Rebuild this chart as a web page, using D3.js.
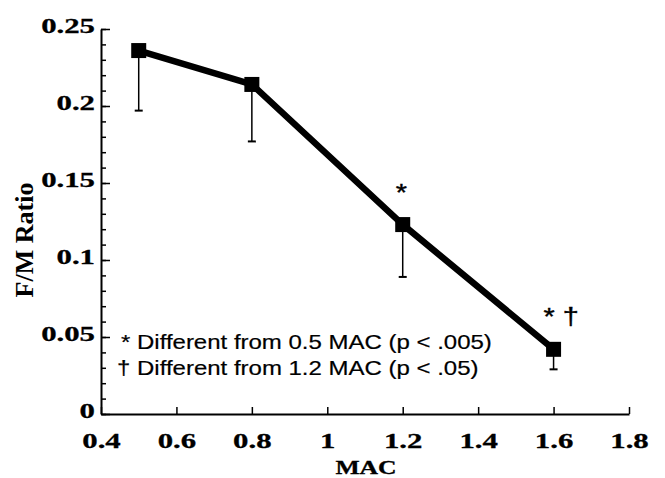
<!DOCTYPE html>
<html>
<head>
<meta charset="utf-8">
<script src="https://cdn.jsdelivr.net/npm/d3@7"></script>
<style>
  body { margin: 0; background: #fff; }
  svg { display: block; }
</style>
</head>
<body>
<div id="main_div"></div>
<script>
// values
var mac = [0.5, 0.8, 1.2, 1.6];
var ratio = [0.236, 0.214, 0.123, 0.042];
var sd = [0.039, 0.037, 0.034, 0.013];
var xTicks = [0.4, 0.6, 0.8, 1, 1.2, 1.4, 1.6, 1.8];
var yTicks = [0, 0.05, 0.1, 0.15, 0.2, 0.25];
var yMinor = d3.range(0, 26).map(function(i) { return i / 100; });
var marks = ["", "", "*", "* \u2020"];
var legendLines = ["* Different from 0.5 MAC (p < .005)", "\u2020 Different from 1.2 MAC (p < .05)"];

var x_scale = d3.scaleLinear().domain([0.4, 1.8]).range([101, 629]);
var y_scale = d3.scaleLinear().domain([0, 0.25]).range([414, 29]);

var serif = "'Liberation Serif', 'Times New Roman', serif";
var sans = "'Liberation Sans', Arial, Helvetica, sans-serif";
var sx = 1.4;

var svg = d3.select("#main_div").append("svg").attr("width", 665).attr("height", 478);

// minor ticks on y
svg.append("g").attr("transform", "translate(101,0)")
    .call(d3.axisLeft(y_scale).tickValues(yMinor).tickSize(-5).tickFormat(""))
    .call(function(g) { g.select(".domain").remove(); })
    .selectAll("line").attr("stroke-width", 1.5);

var g_y = svg.append("g").attr("transform", "translate(101,0)")
    .call(d3.axisLeft(y_scale).tickValues(yTicks).tickSize(-9).tickSizeOuter(0)
        .tickFormat(function(d) { return d === 0 ? "0" : String(d); }));
g_y.select(".domain").attr("stroke-width", 2);
g_y.selectAll("line").attr("stroke-width", 1.5);
g_y.selectAll("text")
    .attr("font-family", serif).attr("font-weight", "bold").attr("font-size", 22)
    .attr("stroke", "#000").attr("stroke-width", 0.3)
    .attr("x", -6 / sx).attr("dy", "0.18em")
    .attr("transform", "scale(" + sx + ",1)");

var g_x = svg.append("g").attr("transform", "translate(0,414)")
    .call(d3.axisBottom(x_scale).tickValues(xTicks).tickSize(-7).tickSizeOuter(0)
        .tickFormat(function(d) { return String(d); }));
g_x.select(".domain").attr("stroke-width", 2);
g_x.selectAll("line").attr("stroke-width", 1.5);
g_x.selectAll("text")
    .attr("font-family", serif).attr("font-weight", "bold").attr("font-size", 22)
    .attr("stroke", "#000").attr("stroke-width", 0.3)
    .attr("y", 18).attr("dy", "0.71em")
    .attr("transform", "scale(" + sx + ",1)");

// axis titles
svg.append("text")
    .attr("transform", "translate(366,474) scale(1.35,1)")
    .attr("text-anchor", "middle")
    .attr("font-family", serif).attr("font-weight", "bold").attr("font-size", 19)
    .attr("stroke", "#000").attr("stroke-width", 0.3)
    .text("MAC");

svg.append("text")
    .attr("transform", "translate(33,240) rotate(-90)")
    .attr("text-anchor", "middle")
    .attr("font-family", serif).attr("font-weight", "bold").attr("font-size", 26)
    .text("F/M Ratio");

// error bars (lower only)
var pts = mac.map(function(m, i) { return {m: m, r: ratio[i], sd: sd[i], mark: marks[i]}; });

var eb = svg.append("g").selectAll("g").data(pts).enter().append("g");
eb.append("line")
    .attr("x1", function(d) { return x_scale(d.m); })
    .attr("x2", function(d) { return x_scale(d.m); })
    .attr("y1", function(d) { return y_scale(d.r); })
    .attr("y2", function(d) { return y_scale(d.r - d.sd); })
    .attr("stroke", "#000").attr("stroke-width", 1.5);
eb.append("line")
    .attr("x1", function(d) { return x_scale(d.m) - 4; })
    .attr("x2", function(d) { return x_scale(d.m) + 4; })
    .attr("y1", function(d) { return y_scale(d.r - d.sd); })
    .attr("y2", function(d) { return y_scale(d.r - d.sd); })
    .attr("stroke", "#000").attr("stroke-width", 2);

var line = d3.line()
    .x(function(d) { return x_scale(d.m); })
    .y(function(d) { return y_scale(d.r); });

svg.append("path").datum(pts)
    .attr("d", line)
    .attr("fill", "none").attr("stroke", "#000").attr("stroke-width", 6.5);

svg.append("g").selectAll("rect").data(pts).enter().append("rect")
    .attr("x", function(d) { return x_scale(d.m) - 7.5; })
    .attr("y", function(d) { return y_scale(d.r) - 7.5; })
    .attr("width", 15).attr("height", 15)
    .attr("fill", "#000");

// significance marks
svg.append("g").selectAll("text").data(pts.filter(function(d) { return d.mark; })).enter().append("text")
    .attr("transform", function(d) {
        var dx = d.mark.length > 1 ? -10 : -7;
        return "translate(" + (x_scale(d.m) + dx) + "," + (y_scale(d.r) - 24) + ") scale(1.2,1)";
    })
    .attr("font-family", sans).attr("font-size", 24)
    .attr("stroke", "#000").attr("stroke-width", 0.4)
    .text(function(d) { return d.mark; });

// legend
svg.append("g").selectAll("text").data(legendLines).enter().append("text")
    .attr("transform", function(d, i) {
        return "translate(" + (i === 0 ? 121 : 117) + "," + (349 + i * 26) + ") scale(1.2,1)";
    })
    .attr("font-family", sans).attr("font-size", 20)
    .attr("stroke", "#000").attr("stroke-width", 0.2)
    .text(function(d) { return d; });
</script>
</body>
</html>
